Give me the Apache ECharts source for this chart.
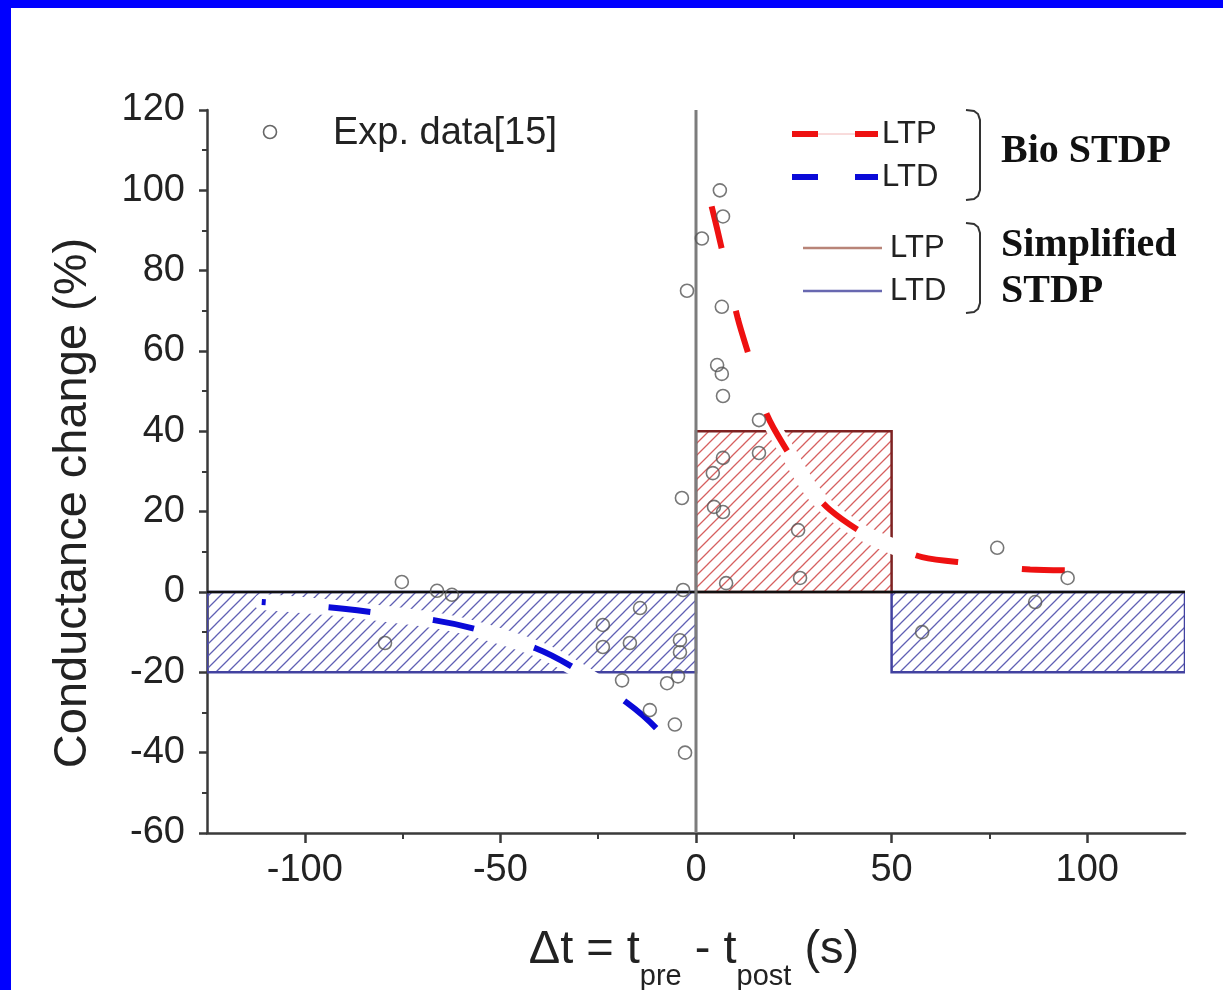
<!DOCTYPE html>
<html><head><meta charset="utf-8">
<script src="https://cdn.jsdelivr.net/npm/echarts@6/dist/echarts.min.js"></script>
<style>html,body{margin:0;padding:0;background:#fff;overflow:hidden}#c{width:1223px;height:990px}</style>
</head><body><div id="c"></div>
<script>
// ---- data ----
const xTickValues = [-100, -50, 0, 50, 100];
const xMinorTickValues = [-75, -25, 25, 75];
const yRange = [-60, 120];
const xRange = [-125, 125];

// Experimental data points [dt, change%]
const expData = [
  [6.1, 100], [6.9, 93.5], [1.5, 88], [-2.3, 75], [6.6, 71],
  [5.4, 56.5], [6.6, 54.3], [6.9, 48.8], [16.1, 42.8], [16.1, 34.6],
  [6.9, 33.4], [4.3, 29.6], [-3.6, 23.4], [4.6, 21.2], [6.9, 19.9],
  [26.1, 15.4], [26.6, 3.5], [7.7, 2.2], [-3.3, 0.5],
  [77, 11], [95, 3.5], [86.7, -2.5], [57.8, -10],
  [-75.2, 2.5], [-66.2, 0.3], [-62.4, -0.7], [-79.5, -12.7],
  [-14.3, -4], [-23.8, -8.2], [-23.8, -13.7], [-16.9, -12.7],
  [-4.1, -12], [-4.1, -15], [-18.9, -22], [-7.4, -22.7], [-4.6, -21],
  [-11.8, -29.4], [-5.4, -33], [-2.8, -40]
];

// Bio STDP curves
const bioLTP = [
  [4, 96], [5.5, 90], [7.4, 82], [10.7, 68], [13.8, 58], [18.2, 44],
  [24, 34], [29, 26], [34.3, 20.4], [42.7, 14.7], [50, 11.5],
  [57.8, 8.7], [69.3, 7.2], [85.4, 5.6], [96.4, 5.4]
];
const bioLTD = [
  [-111, -2.5], [-94, -3.8], [-83, -5], [-67, -7], [-56.5, -9.2],
  [-41, -14], [-31.5, -18.7], [-17.6, -27.6], [-9.7, -34.4], [-3.6, -42.6]
];

// Simplified STDP rectangles [x0, x1, y0, y1]
const simpleLTP = [[0, 50, 0, 40]];
const simpleLTD = [[-125, 0, -20, 0], [50, 125, -20, 0]];

// reference lines
const zeroLine = [[-125, 0], [125, 0]];
const originLine = [[0, -60], [0, 120]];

// ---- drawing ----
function hatch(color) {
  const s = 12, c = document.createElement('canvas');
  c.width = s; c.height = s;
  const g = c.getContext('2d');
  g.strokeStyle = color; g.lineWidth = 1.3;
  g.beginPath();
  g.moveTo(-1, s + 1); g.lineTo(s + 1, -1);
  g.moveTo(-2, 2); g.lineTo(2, -2);
  g.moveTo(s - 2, s + 2); g.lineTo(s + 2, s - 2);
  g.stroke();
  return c;
}
const redHatch = hatch('#d66060');
const blueHatch = hatch('#6060b4');

function rectSeries(data, pattern, stroke) {
  return {
    type: 'custom', data: data, z: 1, silent: true, clip: true,
    encode: { x: [0, 1], y: [2, 3] },
    renderItem: function (params, api) {
      const p0 = api.coord([api.value(0), api.value(3)]);
      const p1 = api.coord([api.value(1), api.value(2)]);
      return {
        type: 'rect',
        shape: { x: p0[0], y: p0[1], width: p1[0] - p0[0], height: p1[1] - p0[1] },
        style: { fill: { image: pattern, repeat: 'repeat' }, stroke: stroke, lineWidth: 2.5 }
      };
    }
  };
}

function bracket(top, bottom) {
  return { type: 'polyline', z: 100,
    shape: { points: [[966, top], [974, top + 1], [978, top + 4], [980, top + 10],
                      [980, bottom - 10], [978, bottom - 4], [974, bottom - 1], [966, bottom]] },
    style: { fill: null, stroke: '#333', lineWidth: 2 } };
}

const axisColor = '#3a3a3a';
const labelFont = { fontSize: 38, color: '#222222', fontFamily: 'Liberation Sans' };

const option = {
  animation: false,
  backgroundColor: '#ffffff',
  grid: { left: 207, top: 110, width: 978, height: 723, containLabel: false, outerBoundsMode: 'none' },
  xAxis: [{
    type: 'value', min: xRange[0], max: xRange[1], position: 'bottom',
    axisLine: { show: true, onZero: false, lineStyle: { color: axisColor, width: 2.5 } },
    axisTick: { show: true, customValues: xTickValues, length: 10, lineStyle: { color: axisColor, width: 2.5 } },
    axisLabel: Object.assign({ customValues: xTickValues, margin: 19 }, labelFont),
    splitLine: { show: false }
  }, {
    type: 'value', min: xRange[0], max: xRange[1], position: 'bottom',
    axisLine: { show: false, onZero: false },
    axisTick: { show: true, customValues: xMinorTickValues, length: 6, lineStyle: { color: axisColor, width: 2 } },
    axisLabel: { show: false },
    splitLine: { show: false }
  }],
  yAxis: {
    type: 'value', min: yRange[0], max: yRange[1], interval: 20,
    axisLine: { show: true, onZero: false, lineStyle: { color: axisColor, width: 2.5 } },
    axisTick: { show: true, length: 8, lineStyle: { color: axisColor, width: 2.5 } },
    minorTick: { show: true, splitNumber: 2, length: 5, lineStyle: { color: axisColor, width: 2 } },
    axisLabel: Object.assign({ margin: 22 }, labelFont),
    splitLine: { show: false }
  },
  series: [
    rectSeries(simpleLTD, blueHatch, '#4242a0'),
    rectSeries(simpleLTP, redHatch, '#7d2222'),
    { type: 'line', data: bioLTP, smooth: 0.3, symbol: 'none', silent: true, z: 2,
      lineStyle: { color: '#ffffff', width: 16, cap: 'round' } },
    { type: 'line', data: bioLTD, smooth: 0.3, symbol: 'none', silent: true, z: 2,
      lineStyle: { color: '#ffffff', width: 16, cap: 'round' } },
    { type: 'line', data: zeroLine, symbol: 'none', silent: true, z: 3,
      lineStyle: { color: '#111111', width: 2.5 } },
    { type: 'line', data: originLine, symbol: 'none', silent: true, z: 3,
      lineStyle: { color: '#7c7c7c', width: 3 } },
    { type: 'line', name: 'Bio LTP', data: bioLTP, smooth: 0.3, symbol: 'none', silent: true, z: 4,
      lineStyle: { color: '#ee1111', width: 6, type: [43, 64], cap: 'butt' } },
    { type: 'line', name: 'Bio LTD', data: bioLTD, smooth: 0.3, symbol: 'none', silent: true, z: 4,
      lineStyle: { color: '#0a0ad8', width: 6, type: [42, 63], dashOffset: 38, cap: 'butt' } },
    { type: 'scatter', name: 'Exp. data[15]', data: expData, symbol: 'circle', symbolSize: 13, z: 5, silent: true,
      itemStyle: { color: 'rgba(255,255,255,0)', borderColor: '#555555', borderWidth: 1.6 } }
  ],
  graphic: { elements: [
    { type: 'rect', z: 200, shape: { x: 0, y: 0, width: 11, height: 990 }, style: { fill: '#0000ff' } },
    { type: 'rect', z: 200, shape: { x: 0, y: 0, width: 1223, height: 8 }, style: { fill: '#0000ff' } },
    // axis titles
    { type: 'text', z: 100, x: 73, y: 503, rotation: Math.PI / 2,
      style: { text: 'Conductance change (%)', font: '47px "Liberation Sans"', fill: '#222', align: 'center', verticalAlign: 'middle' } },
    { type: 'text', z: 100, x: 694, y: 927,
      style: { text: '{a|Δt = t}{b|pre}{a| - t}{b|post}{a| (s)}', align: 'center', verticalAlign: 'top',
        rich: {
          a: { fontSize: 47, fontFamily: 'Liberation Sans', fill: '#222', verticalAlign: 'top' },
          b: { fontSize: 29, fontFamily: 'Liberation Sans', fill: '#222', verticalAlign: 'top', padding: [35, 0, 0, 0] }
        } } },
    // legend: experimental data
    { type: 'circle', z: 100, shape: { cx: 270, cy: 132, r: 6.5 }, style: { fill: null, stroke: '#666', lineWidth: 1.6 } },
    { type: 'text', z: 100, x: 333, y: 134, style: { text: 'Exp. data[15]', font: '38px "Liberation Sans"', fill: '#222', verticalAlign: 'middle' } },
    // Bio STDP
    { type: 'line', z: 100, shape: { x1: 792, y1: 134, x2: 878, y2: 134 }, style: { stroke: '#f2b8b8', lineWidth: 1 } },
    { type: 'line', z: 101, shape: { x1: 792, y1: 134, x2: 878, y2: 134 }, style: { stroke: '#ee1111', lineWidth: 6, lineDash: [26, 37] } },
    { type: 'line', z: 101, shape: { x1: 792, y1: 177, x2: 878, y2: 177 }, style: { stroke: '#0a0ad8', lineWidth: 6, lineDash: [26, 37] } },
    { type: 'text', z: 100, x: 882, y: 134, style: { text: 'LTP', font: '31px "Liberation Sans"', fill: '#222', verticalAlign: 'middle' } },
    { type: 'text', z: 100, x: 882, y: 177, style: { text: 'LTD', font: '31px "Liberation Sans"', fill: '#222', verticalAlign: 'middle' } },
    bracket(110, 200),
    { type: 'text', z: 100, x: 1001, y: 152, style: { text: 'Bio STDP', font: 'bold 40px "Liberation Serif"', fill: '#111', verticalAlign: 'middle' } },
    // Simplified STDP
    { type: 'line', z: 100, shape: { x1: 803, y1: 248, x2: 882, y2: 248 }, style: { stroke: '#b88478', lineWidth: 2.5 } },
    { type: 'line', z: 100, shape: { x1: 803, y1: 291, x2: 882, y2: 291 }, style: { stroke: '#6868b0', lineWidth: 2.5 } },
    { type: 'text', z: 100, x: 890, y: 248, style: { text: 'LTP', font: '31px "Liberation Sans"', fill: '#222', verticalAlign: 'middle' } },
    { type: 'text', z: 100, x: 890, y: 291, style: { text: 'LTD', font: '31px "Liberation Sans"', fill: '#222', verticalAlign: 'middle' } },
    bracket(223, 313),
    { type: 'text', z: 100, x: 1001, y: 246, style: { text: 'Simplified', font: 'bold 40px "Liberation Serif"', fill: '#111', verticalAlign: 'middle' } },
    { type: 'text', z: 100, x: 1001, y: 292, style: { text: 'STDP', font: 'bold 40px "Liberation Serif"', fill: '#111', verticalAlign: 'middle' } }
  ] }
};

const chart = echarts.init(document.getElementById('c'), null, { renderer: 'canvas' });
chart.setOption(option);
</script>
</body></html>
